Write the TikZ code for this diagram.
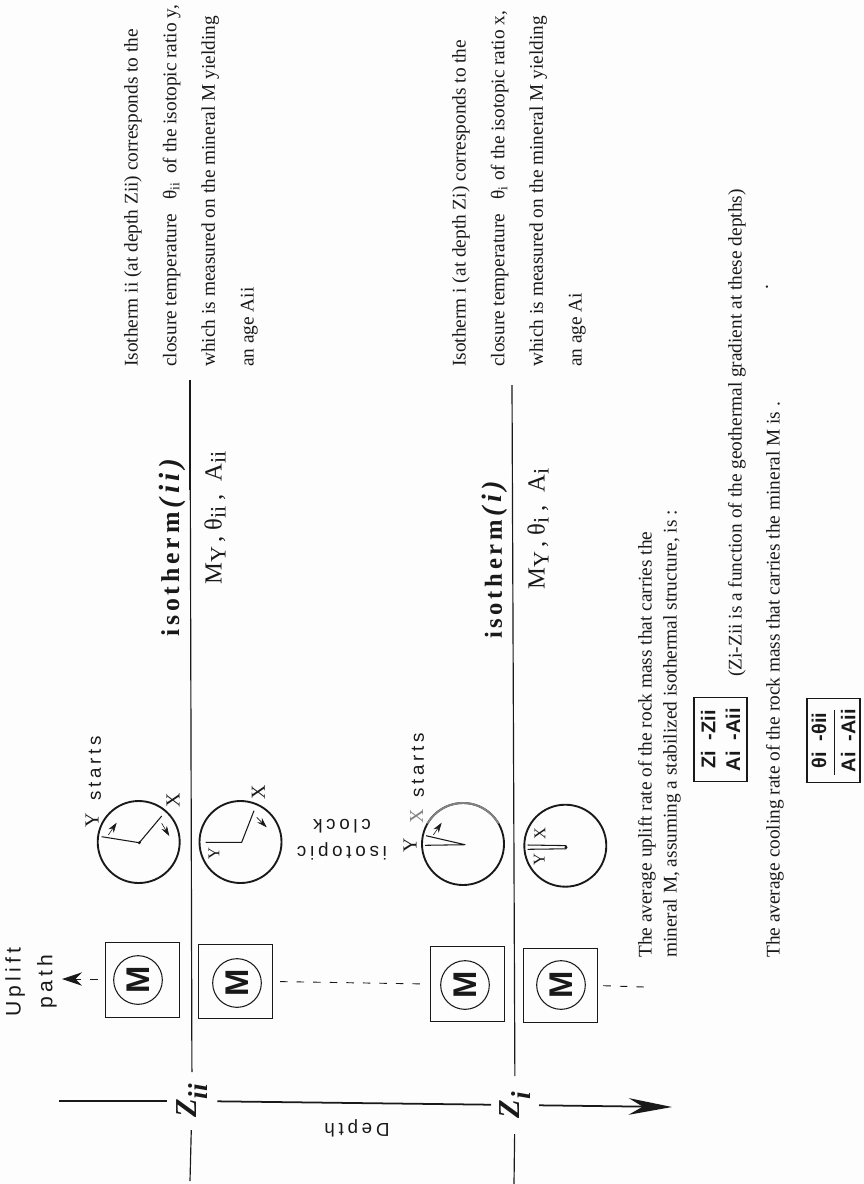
\documentclass[tikz,border=0pt]{standalone}
\usepackage{fontspec}
\setmainfont{Liberation Serif}
\newfontfamily\spacedsans[LetterSpace=20]{Liberation Sans}
\newfontfamily\spacedserif[LetterSpace=15]{Liberation Serif}
\newfontfamily\plainsans{Liberation Sans}
\usetikzlibrary{arrows.meta}
\definecolor{paper}{RGB}{253, 253, 253}
\definecolor{inkblack}{RGB}{25, 25, 25}
\definecolor{fadedink}{RGB}{130, 130, 130}
\newcommand{\low}[1]{\raisebox{-0.35ex}{\scalebox{0.9}{#1}}}
\newcommand{\lowz}[1]{\raisebox{-0.34em}{\scalebox{0.9}{#1}}}

\begin{document}
\begin{tikzpicture}[
  x=0.3mm, y=-0.3mm, color=inkblack,
  mbox/.style={draw, line width=0.8pt, minimum width=22.2mm, minimum height=22.4mm, outer sep=0pt},
  mring/.style={draw, circle, line width=0.9pt, minimum size=14.6mm, inner sep=0pt, outer sep=0pt,
                rotate=90, font=\plainsans\bfseries\fontsize{28}{28}\selectfont},
  clockface/.style={draw, circle, line width=1.6pt, minimum size=24.6mm, inner sep=0pt, outer sep=0pt},
  hand/.style={line width=0.9pt, line join=round},
  sweep/.style={-{Stealth[length=3mm, width=1.9mm]}, line width=0.5pt},
  depthlbl/.style={rotate=90, inner sep=0pt, outer sep=0pt, minimum width=17.4mm, minimum height=15.2mm,
                   font=\bfseries\itshape\fontsize{26}{26}\selectfont},
  isoline/.style={line width=1pt},
  axis/.style={line width=1.5pt},
  dashln/.style={line width=0.8pt, dash pattern=on 6.4pt off 7.7pt},
  letter/.style={rotate=90, inner sep=0pt, font=\fontsize{17}{17}\selectfont},
  inletter/.style={rotate=90, inner sep=0pt, font=\fontsize{14}{14}\selectfont},
  sanslbl/.style={inner sep=0pt, align=center, font=\spacedsans\fontsize{16}{23}\selectfont},
  isolbl/.style={rotate=90, inner sep=0pt, font=\spacedserif\bfseries\fontsize{22}{22}\selectfont},
  minlbl/.style={rotate=90, inner sep=0pt, font=\fontsize{21}{21}\selectfont},
  para/.style={rotate=90, anchor=north west, inner sep=0pt, align=left, font=\fontsize{16.5}{33}\selectfont},
  note/.style={rotate=90, anchor=west, inner sep=0pt, font=\fontsize{16.5}{16.5}\selectfont},
  ratebox/.style={draw, rotate=90, line width=0.9pt, minimum width=25.4mm, minimum height=15.9mm, inner sep=0pt,
                  outer sep=0pt, align=center, font=\plainsans\bfseries\fontsize{17}{21}\selectfont}
]
  \useasboundingbox[fill=paper] (0,0) rectangle (864,1184);

  % depth axis and the two isotherms
  \node[depthlbl] (zii) at (192,1101) {Z\lowz{ii}};
  \node[depthlbl, minimum height=14.4mm] (zi) at (515,1105) {Z\lowz{i}\hspace{7pt}};
  \coordinate (axtop) at (59,1101);
  \coordinate (axtip) at (672,1107);
  \coordinate (iiup) at (190,380);
  \coordinate (iidn) at (190,1181);
  \coordinate (iup) at (512,385);
  \coordinate (idn) at (514,1184);
  \draw[axis] (axtop) -- (zii);
  \draw[axis] (zii) -- (zi);
  \draw[axis, -{Stealth[length=13mm, width=5mm]}] (zi) -- (axtip);
  \draw[isoline] (zii) -- (iiup);
  \draw[isoline, line width=1.6pt] (iiup) -- (190,490);
  \draw[isoline] (zii) -- (iidn);
  \draw[isoline] (zi) -- (iup);
  \draw[isoline] (zi) -- (idn);
  \node[sanslbl, rotate=180] (depth) at (357,1128) {Depth};

  % rock boxes
  \node[mbox] (boxa) at (142,980) {};
  \node[mbox] (boxb) at (235,981.5) {};
  \node[mbox] (boxc) at (467,984) {};
  \node[mbox] (boxd) at (560.5,985.5) {};
  \node[mring] (ma) at (138,980) {M};
  \node[mring] (mb) at (237,983) {M};
  \node[mring] (mc) at (465,985) {M};
  \node[mring] (md) at (561,985) {M};
  \coordinate (uptip) at (62,979);
  \coordinate (dnend) at (644,987);
  \draw[dashln, -{Stealth[length=6mm, width=4mm]}, shorten <=6pt] (boxa.west |- uptip) -- (uptip);
  \draw[dashln, shorten <=7pt, shorten >=6pt] (boxb.east) -- (boxc.west);
  \draw[dashln, shorten <=5pt] (boxd.east) -- (dnend);
  \node[sanslbl, rotate=90, font=\spacedsans\fontsize{18}{27}\selectfont] (uplift) at (31,982) {Uplift\\path};

  % clock above isotherm ii, Y starts
  \node[clockface] (clka) at (138.7,842) {};
  \coordinate (huba) at (139.3,842.7);
  \draw[hand] (101.7,836.7) -- (huba) -- (161.7,816);
  \fill (huba) circle (0.5mm);
  \draw[sweep] (108.3,835) -- (116.7,822.7);
  \draw[sweep] (161.7,823.3) -- (169.3,836);
  \node[letter] (ya) at (92,820) {Y};
  \node[letter] (xa) at (173,800) {X};
  \node[sanslbl, rotate=90, anchor=west] (stya) at (95,801) {starts};

  % clock below isotherm ii
  \node[clockface] (clkb) at (240.5,842) {};
  \coordinate (hubb) at (241.7,842.3);
  \draw[hand] (205.7,842.3) -- (hubb) -- (254,810.7);
  \draw[sweep] (256.7,817.3) -- (266.7,827.3);
  \node[inletter] (yb) at (214,853.3) {Y};
  \node[letter] (xb) at (258.3,792.7) {X};
  \node[sanslbl, rotate=180] (isoclk) at (342,840) {isotopic\\clock};

  % clock above isotherm i, X starts
  \node[clockface, fill=paper] (clkc) at (463,844) {};
  \coordinate (hubc) at (465,844.7);
  \draw[fadedink, line width=1.6pt] (clkc.150) arc[start angle=150, end angle=30, radius=12.3mm];
  \draw[hand] (426,835.7) -- (hubc) -- (425,845.3);
  \draw[sweep] (433.3,835) -- (441.7,822.7);
  \node[letter] (yc) at (410,845.3) {Y};
  \node[letter, text=fadedink] (xc) at (416.7,816.7) {X};
  \node[sanslbl, rotate=90, anchor=west] (styc) at (418,798) {starts};

  % clock below isotherm i
  \node[clockface] (clkd) at (565.3,845.7) {};
  \coordinate (hubd) at (566,847.2);
  \draw[hand] (527.7,845) -- (566,845.6) -- (566,848.8) -- (527.7,849.3);
  \fill (hubd) circle (0.5mm);
  \node[inletter] (xd) at (540,834) {X};
  \node[inletter] (yd) at (539.3,859.3) {Y};

  % isotherm labels
  \node[isolbl] (isoii) at (172,548) {isotherm\,{\fontsize{25}{25}\selectfont\itshape (ii)}};
  \node[isolbl, font=\spacedserif\bfseries\fontsize{21}{21}\selectfont] (isoi) at (495,560) {isotherm\,{\fontsize{24}{24}\selectfont\itshape (i)}};
  \node[minlbl] (minii) at (215,518) {M\low{Y}\,,\ θ\low{ii}\ ,\ \ A\low{ii}};
  \node[minlbl] (mini) at (538,529) {M\low{Y}\,,\ θ\low{i}\ ,\ \ A\low{i}};

  % right hand text
  \node[para] (parii) at (124,367) {Isotherm ii (at depth Zii) corresponds to the\\
    closure temperature\ \ \ θ\textsubscript{ii}\, of the isotopic ratio y,\\
    which is measured on the mineral M yielding\\
    an age Aii};
  \node[para] (pari) at (452,367) {Isotherm i (at depth Zi) corresponds to the\\
    closure temperature\ \ \ θ\textsubscript{i} of the isotopic ratio x,\\
    which is measured on the mineral M yielding\\
    an age Ai};

  % rates
  \node[note] (upa) at (647,958) {The average uplift rate of the rock mass that carries the};
  \node[note] (upb) at (672,958) {mineral M, assuming a stabilized isothermal structure, is :};
  \node[ratebox] (ratez) at (720.5,739.5) {Zi\ \ -Zii\\Ai\ \ -Aii};
  \node[note] (fnc) at (737,677) {(Zi-Zii is a function of the geothermal gradient at these depths)};
  \node[note] (dot) at (767,290) {.};
  \node[note] (coola) at (775,958) {The average cooling rate of the rock mass that carries the mineral M is .};
  \node[ratebox, font=\plainsans\bfseries\fontsize{17}{25}\selectfont] (ratet) at (833.5,740.5) {θi\ \ -θii\\Ai\ \ -Aii};
  \draw[line width=0.6pt] (834,710) -- (834,775);
\end{tikzpicture}
\end{document}
